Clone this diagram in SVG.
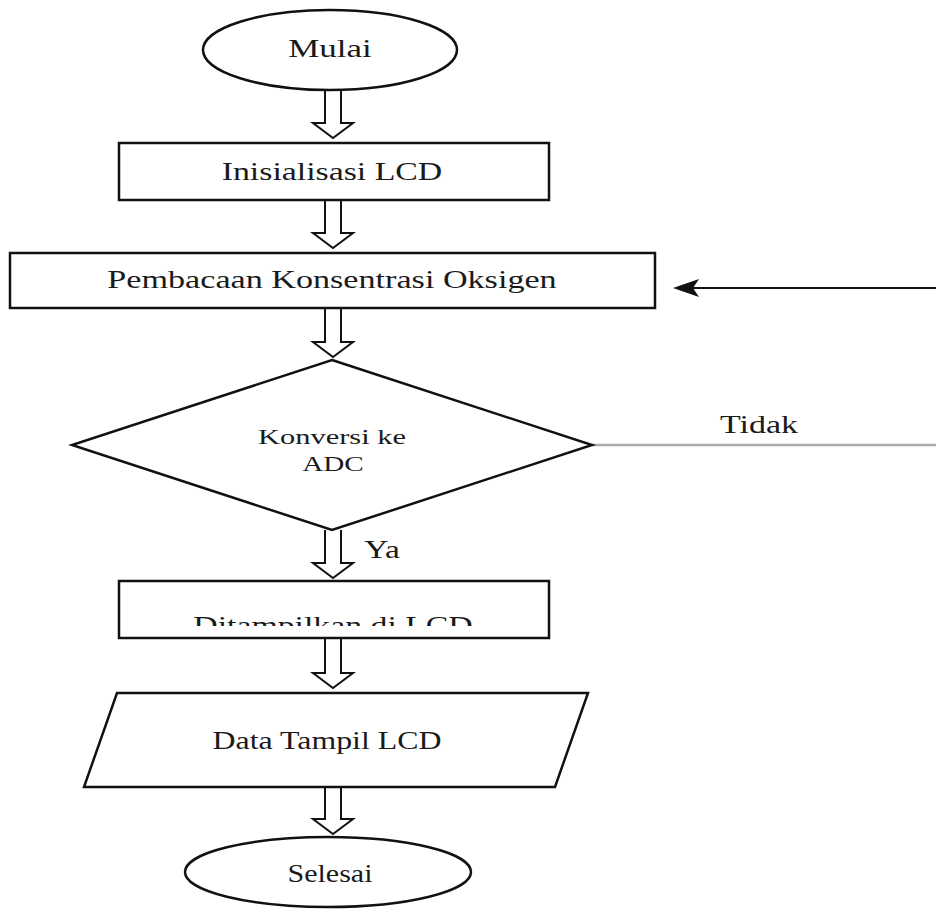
<svg xmlns="http://www.w3.org/2000/svg" width="936" height="909" viewBox="0 0 936 909">
<style>
.shape{fill:#fff;stroke:#111;stroke-width:2.5}
.harrow{fill:#fff;stroke:#111;stroke-width:2;stroke-linejoin:miter}
.lbl{font-family:"Liberation Serif","Times New Roman",serif;font-size:25px;fill:#1a1a1a;text-anchor:middle}
.sm{font-size:21px}
</style>
<defs>
<clipPath id="cut"><rect x="0" y="560" width="936" height="66"/></clipPath>
</defs>
<rect width="936" height="909" fill="#fff"/>
<g id="connectors">
<path class="harrow" d="M325,90 L325,123 L313,123 L333,138 L353,123 L341,123 L341,90"/>
<path class="harrow" d="M325,200 L325,233 L313,233 L333,248 L353,233 L341,233 L341,200"/>
<path class="harrow" d="M325,308 L325,342 L313,342 L333,357 L353,342 L341,342 L341,308"/>
<path class="harrow" d="M325,530 L325,563 L313,563 L333,578 L353,563 L341,563 L341,530"/>
<path class="harrow" d="M325,638 L325,673 L313,673 L333,688 L353,673 L341,673 L341,638"/>
<path class="harrow" d="M325,787 L325,819 L313,819 L333,834 L353,819 L341,819 L341,787"/>
<line x1="592" y1="445" x2="936" y2="445" stroke="#aaa" stroke-width="2.5"/>
<line x1="936" y1="288" x2="692" y2="288" stroke="#111" stroke-width="2"/>
<path d="M673,288 L699,279 L693,288 L699,297 Z" fill="#111"/>
<text class="lbl" transform="translate(759,433) scale(1.37,1)" textLength="57" lengthAdjust="spacingAndGlyphs">Tidak</text>
<text class="lbl" transform="translate(382,558) scale(1.37,1)" textLength="26" lengthAdjust="spacingAndGlyphs">Ya</text>
</g>
<g id="mulai">
<ellipse class="shape" cx="330" cy="50" rx="127" ry="40"/>
<text class="lbl" transform="translate(330,57) scale(1.37,1)" textLength="61" lengthAdjust="spacingAndGlyphs">Mulai</text>
</g>
<g id="init-lcd">
<rect class="shape" x="119" y="143" width="430" height="57"/>
<text class="lbl" transform="translate(332,180) scale(1.37,1)" textLength="161" lengthAdjust="spacingAndGlyphs">Inisialisasi LCD</text>
</g>
<g id="baca">
<rect class="shape" x="10" y="253" width="645" height="55"/>
<text class="lbl" transform="translate(332,288) scale(1.37,1)" textLength="328" lengthAdjust="spacingAndGlyphs">Pembacaan Konsentrasi Oksigen</text>
</g>
<g id="konversi">
<polygon class="shape" points="332,360 592,445 332,530 72,445"/>
<text class="lbl sm" transform="translate(332,444) scale(1.37,1)" textLength="108" lengthAdjust="spacingAndGlyphs">Konversi ke</text>
<text class="lbl sm" transform="translate(333,471) scale(1.37,1)" textLength="45" lengthAdjust="spacingAndGlyphs">ADC</text>
</g>
<g id="tampil">
<rect class="shape" x="119" y="581" width="430" height="57"/>
<g clip-path="url(#cut)">
<text class="lbl" transform="translate(333,634) scale(1.37,1)" textLength="204" lengthAdjust="spacingAndGlyphs">Ditampilkan di LCD</text>
</g>
</g>
<g id="data">
<polygon class="shape" points="117,693 588,693 555,787 84,787"/>
<text class="lbl" transform="translate(327,749) scale(1.37,1)" textLength="167" lengthAdjust="spacingAndGlyphs">Data Tampil LCD</text>
</g>
<g id="selesai">
<ellipse class="shape" cx="328" cy="872" rx="143" ry="35"/>
<text class="lbl" transform="translate(330,882) scale(1.37,1)" textLength="62" lengthAdjust="spacingAndGlyphs">Selesai</text>
</g>
</svg>
